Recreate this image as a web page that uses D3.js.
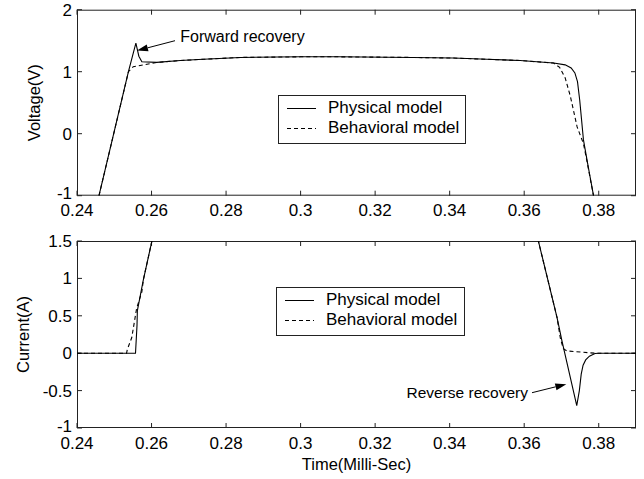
<!DOCTYPE html>
<html><head><meta charset="utf-8">
<script src="https://cdn.jsdelivr.net/npm/d3@7"></script>
<style>
html,body{margin:0;padding:0;background:#fff;}
text{font-family:"Liberation Sans",Arial,Helvetica,sans-serif;fill:#000;}
</style></head>
<body><svg id="c" width="644" height="479"></svg>
<script>
// ---- data ----
const xTicks = [0.24,0.26,0.28,0.3,0.32,0.34,0.36,0.38];
const vTicks = [-1,0,1,2];
const iTicks = [-1,-0.5,0,0.5,1,1.5];
const seriesNames = ["Physical model","Behavioral model"];

// Voltage, physical model
const vPhysT = [0.2459,0.2538,0.2558,0.2566,0.2574,0.2614,0.2677,0.2739,0.2838,0.3000,0.3100,0.3300,0.3410,0.3500,0.3589,0.3679,0.3710,0.3726,0.3736,0.3743,0.3749,0.3759,0.3772,0.3786];
const vPhys  = [-1.0,  1.0,   1.46,  1.25,  1.16,  1.15,  1.18,  1.20,  1.23,  1.24,  1.24,  1.23,  1.22,  1.20,  1.18,  1.14,  1.11,  1.06,  0.98,  0.84,  0.54,  -0.10, -0.54, -1.0];
// Voltage, behavioral model
const vBehT = [0.2459,0.2538,0.2551,0.2578,0.2614,0.2677,0.2739,0.2838,0.3000,0.3100,0.3300,0.3410,0.3500,0.3589,0.3679,0.3695,0.3710,0.3724,0.3742,0.3759,0.3768,0.3786];
const vBeh  = [-1.0,  1.0,   1.08,  1.11,  1.15,  1.18,  1.20,  1.23,  1.24,  1.24,  1.23,  1.22,  1.20,  1.18,  1.14,  1.07,  0.90,  0.60,  0.11,  -0.16, -0.43, -1.0];
// Current, physical model (values beyond 1.5 lie off the chart)
const iPhysT = [0.2400,0.2557,0.2561,0.2562,0.2578,0.2601,0.2610,0.3630,0.3638,0.3688,0.3701,0.3741,0.3748,0.3753,0.3758,0.3765,0.3775,0.3790,0.3800,0.3900];
const iPhys  = [0,     0,     0.37,  0.57,  0.98,  1.5,   1.7,   1.7,   1.5,   0.48,  0.17,  -0.70, -0.50, -0.28, -0.16, -0.09, -0.04, -0.005, 0,    0];
// Current, behavioral model
const iBehT = [0.2400,0.2533,0.2535,0.2547,0.2560,0.2574,0.2578,0.2601,0.2610,0.3630,0.3638,0.3688,0.3697,0.3705,0.3715,0.3740,0.3790,0.3900];
const iBeh  = [0,     0,     0.05,  0.21,  0.60,  0.82,  0.98,  1.5,   1.7,   1.7,   1.5,   0.48,  0.20,  0.06,  0.03,  0.02,  0,     0];

// annotations: [text, textT, textY, tailT, tailY, tipT, tipY]
const fwdNote = ["Forward recovery", 0.2677, 1.487, 0.2663, 1.50, 0.2561, 1.34];
const revNote = ["Reverse recovery", 0.3610, -0.596, 0.3621, -0.528, 0.3713, -0.414];

// ---- drawing ----
const svg = d3.select("#c");
const X0 = 77, X1 = 636;
const x = d3.scaleLinear().domain([0.24,0.39]).range([X0,X1]);
const yV = d3.scaleLinear().domain([-1,2]).range([195.7,9.7]);
const yI = d3.scaleLinear().domain([-1,1.5]).range([428,241]);
const fmt = d => String(d);

function panel(y, yTicks, id, title, titleX, legendBox) {
  const g = svg.append("g");
  const [yb, yt] = y.range();
  svg.append("clipPath").attr("id", id).append("rect")
    .attr("x", X0).attr("y", yt).attr("width", X1 - X0).attr("height", yb - yt);
  const tl = 5;
  xTicks.forEach(t => {
    g.append("line").attr("x1", x(t)).attr("x2", x(t)).attr("y1", yb).attr("y2", yb - tl).attr("stroke", "#222");
    g.append("line").attr("x1", x(t)).attr("x2", x(t)).attr("y1", yt).attr("y2", yt + tl).attr("stroke", "#222");
    g.append("text").attr("x", x(t)).attr("y", yb + 20.5).attr("text-anchor", "middle")
      .style("font-size", "17px").text(fmt(t));
  });
  const ymin = d3.min(yTicks);
  yTicks.forEach(v => {
    g.append("line").attr("x1", X0).attr("x2", X0 + tl).attr("y1", y(v)).attr("y2", y(v)).attr("stroke", "#222");
    g.append("line").attr("x1", X1).attr("x2", X1 - tl).attr("y1", y(v)).attr("y2", y(v)).attr("stroke", "#222");
    g.append("text").attr("x", 72).attr("y", y(v) + (v === ymin ? 3.5 : 6)).attr("text-anchor", "end")
      .style("font-size", "17px").text(fmt(v));
  });
  g.append("rect").attr("x", X0 + 0.5).attr("y", yt + 0.5).attr("width", X1 - X0 - 1).attr("height", yb - yt - 1)
    .attr("fill", "none").attr("stroke", "#222");
  const cy = (yb + yt) / 2;
  g.append("text").attr("transform", `translate(${titleX},${cy}) rotate(-90)`)
    .attr("text-anchor", "middle").style("font-size", "16.5px").text(title);
  const [lx, ly, lw, lh] = legendBox;
  g.append("rect").attr("x", lx + 0.5).attr("y", ly + 0.5).attr("width", lw).attr("height", lh)
    .attr("fill", "#fff").attr("stroke", "#222");
  seriesNames.forEach((n, k) => {
    const by = ly + 18 + k * 20;
    g.append("line").attr("x1", lx + 9).attr("x2", lx + 38).attr("y1", by - 4.5).attr("y2", by - 4.5)
      .attr("stroke", "#000").attr("stroke-dasharray", k ? "4,3" : null);
    g.append("text").attr("x", lx + 50).attr("y", by).style("font-size", "17px").text(n);
  });
  return g;
}

function drawSeries(g, y, id, T, V, dashed) {
  const pts = T.map((t, k) => [t, V[k]]);
  g.append("path").datum(pts)
    .attr("d", d3.line().x(d => x(d[0])).y(d => y(d[1])))
    .attr("fill", "none").attr("stroke", "#000").attr("stroke-width", 1.1)
    .attr("stroke-dasharray", dashed ? "4,3" : null)
    .attr("clip-path", `url(#${id})`);
}

function note(g, y, n, size, anchor) {
  const [txt, tt, ty, t0, y0, t1, y1] = n;
  const ax = x(t0), ay = y(y0), bx = x(t1), by = y(y1);
  const dx = bx - ax, dy = by - ay, L = Math.hypot(dx, dy), ux = dx / L, uy = dy / L;
  const hl = 11, hw = 3.5;
  const hx = bx - ux * hl, hy = by - uy * hl;
  g.append("line").attr("x1", ax).attr("y1", ay).attr("x2", hx).attr("y2", hy).attr("stroke", "#000");
  g.append("polygon").attr("points",
    [[bx, by], [hx - uy * hw, hy + ux * hw], [hx + uy * hw, hy - ux * hw]].map(p => p.join(",")).join(" "))
    .attr("fill", "#000");
  g.append("text").attr("x", x(tt)).attr("y", y(ty)).attr("text-anchor", anchor)
    .style("font-size", size).text(txt);
}

const p1 = panel(yV, vTicks, "clipV", "Voltage(V)", 39.5, [278, 95, 187, 48]);
drawSeries(p1, yV, "clipV", vPhysT, vPhys, false);
drawSeries(p1, yV, "clipV", vBehT, vBeh, true);
note(p1, yV, fwdNote, "16px", "start");

const p2 = panel(yI, iTicks, "clipI", "Current(A)", 29, [276, 287, 188, 48]);
drawSeries(p2, yI, "clipI", iPhysT, iPhys, false);
drawSeries(p2, yI, "clipI", iBehT, iBeh, true);
note(p2, yI, revNote, "15.5px", "end");

svg.append("text").attr("x", (X0 + X1) / 2).attr("y", 470).attr("text-anchor", "middle")
  .style("font-size", "16.5px").text("Time(Milli-Sec)");
</script></body></html>
